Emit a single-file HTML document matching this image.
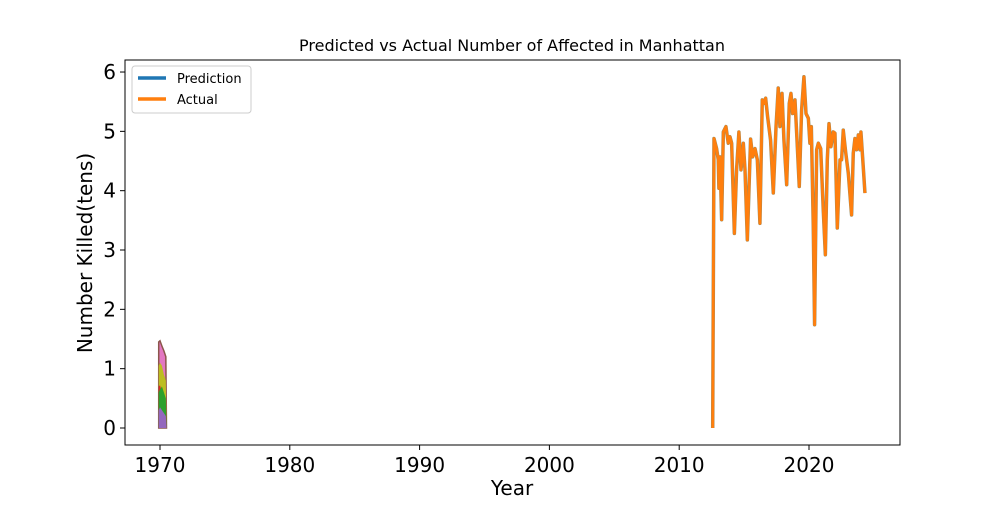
<!DOCTYPE html>
<html><head><meta charset="utf-8"><style>
body{margin:0;background:#fff}
svg{font-family:"DejaVu Sans","Liberation Sans",sans-serif}
</style></head><body>
<svg id="chart" width="1000" height="500">
<rect x="0" y="0" width="1000" height="500" fill="#fff"/>
<text x="512" y="51" text-anchor="middle" font-size="16">Predicted vs Actual Number of Affected in Manhattan</text>
<g id="bands"></g>
<g id="lines"></g>
<rect x="125" y="60" width="775" height="385" fill="none" stroke="#000" stroke-width="1"/>
<g id="axes"></g>
<text x="512" y="495" text-anchor="middle" font-size="20">Year</text>
<text transform="translate(92,253) rotate(-90)" text-anchor="middle" font-size="20">Number Killed(tens)</text>
<g>
<rect x="132" y="66" width="119" height="47" rx="3" fill="#fff" stroke="#ccc"/>
<line x1="138" y1="78" x2="166" y2="78" stroke="#1f77b4" stroke-width="3.5"/>
<text x="177" y="83" font-size="13">Prediction</text>
<line x1="138" y1="99" x2="166" y2="99" stroke="#ff7f0e" stroke-width="3.5"/>
<text x="177" y="104" font-size="13">Actual</text>
</g>
</svg>
<script>
const years=[2012.58,2012.68,2012.88,2013.01,2013.06,2013.14,2013.27,2013.40,2013.60,2013.78,2013.91,2014.04,2014.25,2014.42,2014.60,2014.76,2014.94,2015.07,2015.25,2015.50,2015.66,2015.84,2016.02,2016.22,2016.40,2016.53,2016.66,2016.81,2017.04,2017.25,2017.46,2017.63,2017.76,2017.92,2018.07,2018.28,2018.48,2018.61,2018.74,2018.92,2019.05,2019.25,2019.43,2019.61,2019.77,2019.95,2020.07,2020.18,2020.33,2020.43,2020.59,2020.72,2020.90,2021.10,2021.26,2021.41,2021.54,2021.69,2021.87,2022.00,2022.18,2022.39,2022.51,2022.64,2022.82,2023.03,2023.28,2023.41,2023.54,2023.67,2023.80,2023.93,2024.00,2024.18,2024.31];
const actual=[0,4.88,4.71,4.52,4.04,4.57,3.51,4.99,5.08,4.80,4.91,4.80,3.28,4.35,4.99,4.35,4.80,4.35,3.17,4.87,4.57,4.71,4.52,3.45,5.53,5.47,5.56,5.25,4.85,3.96,5.08,5.73,5.08,5.64,4.85,4.10,5.47,5.64,5.30,5.53,4.97,4.07,5.36,5.92,5.30,5.22,4.80,5.08,3.39,1.74,4.69,4.80,4.71,3.67,2.92,4.52,5.13,4.74,4.99,4.97,3.37,4.52,4.52,5.02,4.66,4.29,3.59,4.63,4.88,4.69,4.94,4.69,4.99,4.40,3.96];
const predicted=actual.slice();
const bandYears=[1969.9,1970.0,1970.15,1970.3,1970.45,1970.5];
const bandPurple=[0.3,0.35,0.3,0.25,0.2,0];
const bandGreen=[0.6,0.65,0.7,0.6,0.5,0];
const bandRed=[0.7,0.72,0.6,0.5,0.4,0];
const bandOlive=[1.05,1.1,1.05,0.9,0.8,0];
const bandPink=[1.45,1.47,1.38,1.3,1.2,0];
const xTicks=[1970,1980,1990,2000,2010,2020];
const yTicks=[0,1,2,3,4,5,6];
const NS="http://www.w3.org/2000/svg";
const xs=y=>160+(y-1970)*12.98;
const ys=v=>428-v*59.33;
const axes=document.getElementById('axes');
function mk(tag,attrs,parent){const e=document.createElementNS(NS,tag);for(const k in attrs)e.setAttribute(k,attrs[k]);parent.appendChild(e);return e;}
xTicks.forEach(t=>{
 const l=mk('line',{x1:xs(t),x2:xs(t),y1:445,y2:450,stroke:'#000'},axes);
 
 
 const tx=mk('text',{x:xs(t),y:472,'text-anchor':'middle','font-size':20},axes);tx.textContent=t;
 
 
});
yTicks.forEach(t=>{
 const l=mk('line',{x1:120,x2:125,y1:ys(t),y2:ys(t),stroke:'#000'},axes);
 
 
 const tx=mk('text',{x:116,y:ys(t)+7,'text-anchor':'end','font-size':20},axes);tx.textContent=t;
 
 
});
const bands=document.getElementById('bands');
[[bandPink,'#e377c2'],[bandOlive,'#bcbd22'],[bandRed,'#d62728'],[bandGreen,'#2ca02c'],[bandPurple,'#9467bd']].forEach(([arr,c])=>{
 let d='M'+xs(bandYears[0])+','+ys(0);
 arr.forEach((v,i)=>{d+=' L'+xs(bandYears[i])+','+ys(v);});
 d+=' Z';
 const p=mk('path',{d:d,fill:c,stroke:c==='#e377c2'?'#8c564b':'none','stroke-width':1.5},bands);
 
 
});
const lines=document.getElementById('lines');
function pl(arr){return arr.map((v,i)=>xs(years[i])+','+ys(v)).join(' ');}
const pp=mk('polyline',{points:pl(predicted),fill:'none',stroke:'#8c8c6a','stroke-width':3.5,'stroke-linejoin':'round'},lines);


const pa=mk('polyline',{points:pl(actual),fill:'none',stroke:'#ff7f0e','stroke-width':2.8,'stroke-linejoin':'round'},lines);


</script>
</body></html>
